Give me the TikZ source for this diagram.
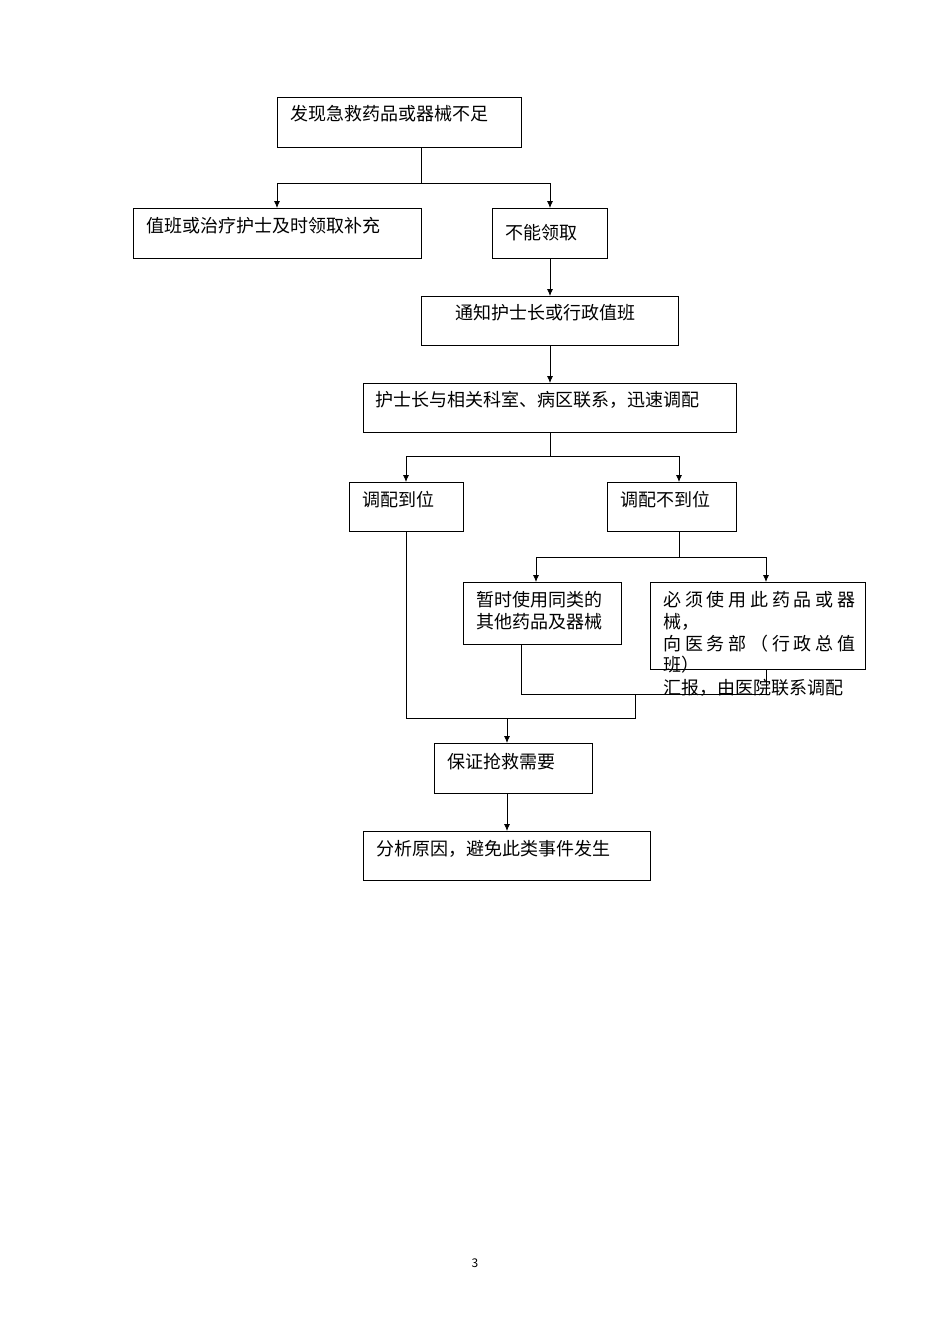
\documentclass[tikz,border=0pt]{standalone}
\usepackage{fontspec}
\setmainfont{Noto Sans CJK SC}
\begin{document}
\begin{tikzpicture}[x=1pt,y=-1pt,line width=0.8pt,
  bx/.style={draw,minimum width=0pt},
  tx/.style={anchor=west,inner sep=0pt,font=\fontsize{18}{22}\selectfont},
  ar/.style={-{Latex[length=7pt,width=6pt]}}]
\useasboundingbox (0,0) rectangle (950,1344);
\usetikzlibrary{arrows.meta}
\draw (277,97) rectangle (521,147); \node[tx] (t1) at (290,114) {发现急救药品或器械不足};
\draw (133,208) rectangle (421,258); \node[tx] (t2) at (146,226) {值班或治疗护士及时领取补充};
\draw (492,208) rectangle (607,258); \node[tx] (t3) at (505,233) {不能领取};
\draw (421,296) rectangle (678,345); \node[tx] (t4) at (455,313) {通知护士长或行政值班};
\draw (363,383) rectangle (736,432); \node[tx] (t5) at (375,400) {护士长与相关科室、病区联系，迅速调配};
\draw (349,482) rectangle (463,531); \node[tx] (t6) at (362,500) {调配到位};
\draw (607,482) rectangle (736,531); \node[tx] (t7) at (620,500) {调配不到位};
\draw (463,582) rectangle (621,644);
\node[tx] (t8a) at (476,600) {暂时使用同类的};
\node[tx] (t8b) at (476,622) {其他药品及器械};
\draw (650,582) rectangle (865,669);
\node[tx] (t9a) at (663,600) {\makebox[192pt][s]{必\hfill 须\hfill 使\hfill 用\hfill 此\hfill 药\hfill 品\hfill 或\hfill 器}};
\node[tx] (t9b) at (663,622) {械，};
\node[tx] (t9c) at (663,644) {\makebox[192pt][s]{向\hfill 医\hfill 务\hfill 部\hfill （\hfill 行\hfill 政\hfill 总\hfill 值}};
\node[tx] (t9d) at (663,665) {班）};
\node[tx] (t9e) at (663,688) {汇报，由医院联系调配};
\draw (434,743) rectangle (592,793); \node[tx] (t10) at (447,762) {保证抢救需要};
\draw (363,831) rectangle (650,880); \node[tx] (t11) at (376,849) {分析原因，避免此类事件发生};
\node[inner sep=0pt,font=\fontsize{12}{14}\selectfont] (pg) at (475,1263) {3};
% connectors
\draw[ar] (421,147) -- (421,183) -| (277,208);
\draw[ar] (421,183) -| (550,208);
\draw[ar] (550,258) -- (550,296);
\draw[ar] (550,345) -- (550,383);
\draw[ar] (550,432) -- (550,456) -| (406,482);
\draw[ar] (550,456) -| (679,482);
\draw[ar] (679,531) -- (679,557) -| (536,582);
\draw[ar] (679,557) -| (766,582);
\draw (521,644) -- (521,694) -- (766,694) -- (766,669);
\draw (406,531) -- (406,718) -- (635,718) -- (635,694);
\draw[ar] (507,718) -- (507,743);
\draw[ar] (507,793) -- (507,831);
\end{tikzpicture}
\end{document}
